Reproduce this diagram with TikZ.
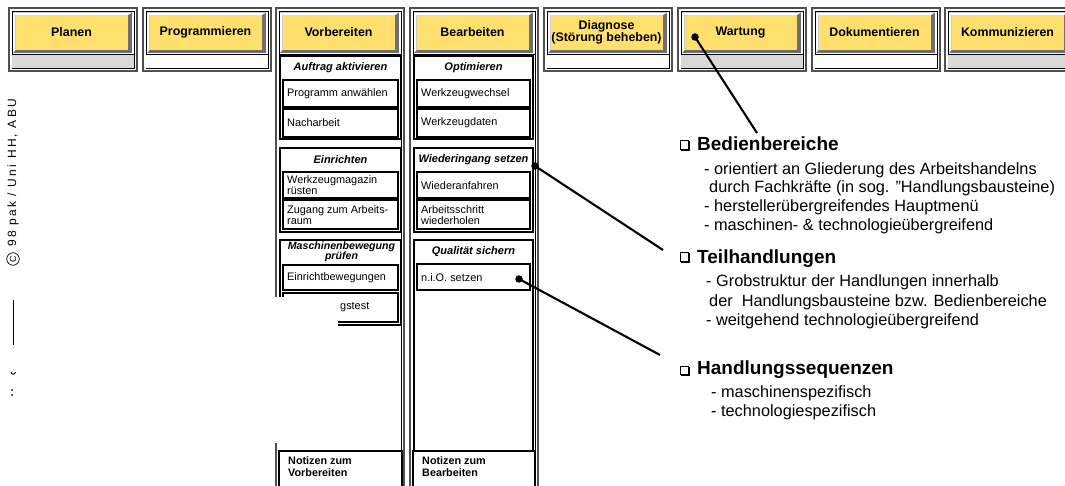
\documentclass[tikz,border=0pt]{standalone}
\usepackage{fontspec}
\setmainfont{Liberation Sans}
\definecolor{btnface}{RGB}{255,224,110}
\definecolor{btnshadow}{RGB}{110,110,110}
\definecolor{lowgray}{RGB}{217,217,217}
\definecolor{frameout}{RGB}{80,80,80}
\tikzset{
  colouter/.style={draw=frameout, line width=1.3pt},
  colinner/.style={draw=black, line width=0.8pt},
  grpbox/.style={draw=black, line width=1.2pt},
  subbox/.style={draw=black, line width=1.2pt},
  btnlabel/.style={font=\bfseries\fontsize{12.4}{11.5}\selectfont, align=center, inner sep=0pt},
  grptitle/.style={font=\bfseries\itshape\fontsize{11}{10.5}\selectfont, align=center, inner sep=0pt},
  itemtext/.style={font=\fontsize{10.9}{11}\selectfont, align=left, anchor=west, inner sep=0pt},
  notetext/.style={font=\bfseries\fontsize{10.8}{12}\selectfont, align=left, anchor=north west, inner sep=0pt},
  headtext/.style={font=\bfseries\fontsize{19}{22}\selectfont, anchor=base west, inner sep=0pt},
  bodytext/.style={font=\fontsize{16.3}{19}\selectfont, anchor=base west, inner sep=0pt},
  dotnode/.style={circle, fill=black, minimum size=7.5pt, inner sep=0pt},
  conn/.style={draw=black, line width=2.1pt},
}
% one menu column: x0, node name, label, fill below the button, bottom edge
\newcommand\menucol[5]{%
  \draw[colouter] (#1,8) rectangle (#1+128,#5);
  \draw[colinner] (#1+3,11) rectangle (#1+125,#5-3);
  \fill[#4] (#1+3.4,54.5) rectangle (#1+124.6,#5-3.4);
  \draw[colinner] (#1+3,54.5) -- (#1+125,54.5);
  \fill[btnshadow] (#1+4,12.5) rectangle (#1+123,53);
  \fill[white] (#1+4,53) -- (#1+4,12.5) -- (#1+123,12.5) -- (#1+119,15) -- (#1+6.5,15) -- (#1+6.5,50) -- cycle;
  \fill[btnface] (#1+6.5,15) rectangle (#1+119,50);
  \node[btnlabel] (#2) at (#1+62.5,32.5) {#3};
}
% checkbox glyph with a shadow on its right and bottom
\newcommand\chkbox[2]{%
  \draw[line width=0.8pt] (#1,#2) rectangle (#1+8.5,#2+8.5);
  \draw[line width=1.4pt] (#1+1,#2+9.4) -- (#1+9.4,#2+9.4) -- (#1+9.4,#2+1);
}
\begin{document}
\begin{tikzpicture}[x=1pt,y=-1pt]
\clip (0,0) rectangle (1065,486);
\fill[white] (0,0) rectangle (1065,486);

% ---- menu bar ----
\menucol{9}{planen}{Planen}{lowgray}{71}
\menucol{143}{prog}{Programmieren}{white}{71}
\menucol{276}{vorb}{Vorbereiten}{white}{495}
\menucol{410}{bearb}{Bearbeiten}{white}{495}
\menucol{544}{diag}{Diagnose\\(Störung beheben)}{white}{71}
\menucol{678}{wart}{Wartung}{lowgray}{71}
\menucol{812}{doku}{Dokumentieren}{white}{71}
\menucol{945}{komm}{Kommunizieren}{lowgray}{71}

% ---- Vorbereiten ----
\draw[grpbox] (280,56) rectangle (401,139);
\node[grptitle] (vg1) at (340.5,68) {Auftrag aktivieren};
\draw[subbox] (283,80) rectangle (398,107);
\node[itemtext] (v11) at (287,93.5) {Programm anwählen};
\draw[subbox] (283,109) rectangle (398,137);
\node[itemtext] (v12) at (287,123) {Nacharbeit};

\draw[grpbox] (280,148) rectangle (401,232);
\node[grptitle] (vg2) at (340.5,160) {Einrichten};
\draw[subbox] (283,172) rectangle (398,198);
\node[itemtext] (v21) at (287,185.5) {Werkzeugmagazin\\rüsten};
\draw[subbox] (283,200) rectangle (398,229);
\node[itemtext] (v22) at (287,215) {Zugang zum Arbeits-\\raum};

\draw[grpbox] (280,240) rectangle (401,325);
\node[grptitle, font=\bfseries\itshape\fontsize{10.6}{10.5}\selectfont] (vg3) at (341.5,252) {Maschinenbewegung\\prüfen};
\draw[subbox] (283,265) rectangle (398,290);
\node[itemtext] (v31) at (287,277.5) {Einrichtbewegungen};
\draw[subbox] (283,293) rectangle (398,322);

\draw[subbox] (279,451) rectangle (402,495);
\node[notetext] (vnote) at (288,456.5) {Notizen zum\\Vorbereiten};

% ---- Bearbeiten ----
\draw[grpbox] (414,56) rectangle (533,139);
\node[grptitle] (bg1) at (473.5,68) {Optimieren};
\draw[subbox] (417,80) rectangle (530,107);
\node[itemtext] (b11) at (421,93.5) {Werkzeugwechsel};
\draw[subbox] (417,109) rectangle (530,137);
\node[itemtext] (b12) at (421,123) {Werkzeugdaten};

\draw[grpbox] (414,148) rectangle (533,232);
\node[grptitle] (bg2) at (473.5,160) {Wiederingang setzen};
\draw[subbox] (417,172) rectangle (530,198);
\node[itemtext] (b21) at (421,185.5) {Wiederanfahren};
\draw[subbox] (417,200) rectangle (530,229);
\node[itemtext] (b22) at (421,215) {Arbeitsschritt\\wiederholen};

\draw[grpbox] (414,240) rectangle (533,451);
\node[grptitle] (bg3) at (473.5,252) {Qualität sichern};
\draw[subbox] (417,264) rectangle (530,290);
\node[itemtext] (b31) at (421,277.5) {n.i.O. setzen};

\draw[subbox] (413,451) rectangle (535,495);
\node[notetext] (bnote) at (422,456.5) {Notizen zum\\Bearbeiten};

% ---- blank patch over the lower left ----
\fill[white] (16,296.5) rectangle (338,443);
\draw[colouter] (276,443) -- (276,495);
\node[itemtext] (v32) at (340,307.5) {gstest};

% ---- copyright line, set vertically ----
\node[circle, draw, line width=0.7pt, minimum size=12.5pt, inner sep=0pt,
      font=\fontsize{9}{9}\selectfont, rotate=90] (cc) at (13,259) {C};
\node[rotate=90, anchor=west, inner sep=0pt,
      font=\fontsize{12}{12}\selectfont\addfontfeature{LetterSpace=19}] (copy) at (13,247) {98 pak / Uni HH, ABU};
\draw[line width=0.9pt] (13,300) -- (13,345);
\draw[line width=0.9pt] (11,372) arc[start angle=180, end angle=0, radius=2.2];
\fill (12.2,390) circle (1);
\fill (12.2,395) circle (1);

% ---- explanations ----
\chkbox{680}{140.5}
\node[headtext] (h1) at (697,151) {Bedienbereiche};
\node[bodytext] (h1a) at (704,174.5) {- orientiert an Gliederung des Arbeitshandelns};
\node[bodytext] (h1b) at (709,193) {durch Fachkräfte (in sog. "Handlungsbausteine)};
\node[bodytext] (h1c) at (704,212) {- herstellerübergreifendes Hauptmenü};
\node[bodytext] (h1d) at (704,231) {- maschinen- \& technologieübergreifend};

\chkbox{680}{252.5}
\node[headtext] (h2) at (697,264) {Teilhandlungen};
\node[bodytext] (h2a) at (706,287) {- Grobstruktur der Handlungen innerhalb};
\node[bodytext] (h2b) at (709,306) {der\ \ Handlungsbausteine bzw. Bedienbereiche};
\node[bodytext] (h2c) at (706,325.5) {- weitgehend technologieübergreifend};

\chkbox{680}{366}
\node[headtext] (h3) at (697,374) {Handlungssequenzen};
\node[bodytext] (h3a) at (711,397) {- maschinenspezifisch};
\node[bodytext] (h3b) at (711,416) {- technologiespezifisch};

% ---- pointers ----
\node[dotnode] (p1) at (695,37) {};
\coordinate (q1) at (757,133);
\draw[conn] (p1.center) -- (q1);
\node[dotnode] (p2) at (535,166) {};
\coordinate (q2) at (663,250);
\draw[conn] (p2.center) -- (q2);
\node[dotnode] (p3) at (519,279) {};
\coordinate (q3) at (660,355);
\draw[conn] (p3.center) -- (q3);
\end{tikzpicture}
\end{document}
